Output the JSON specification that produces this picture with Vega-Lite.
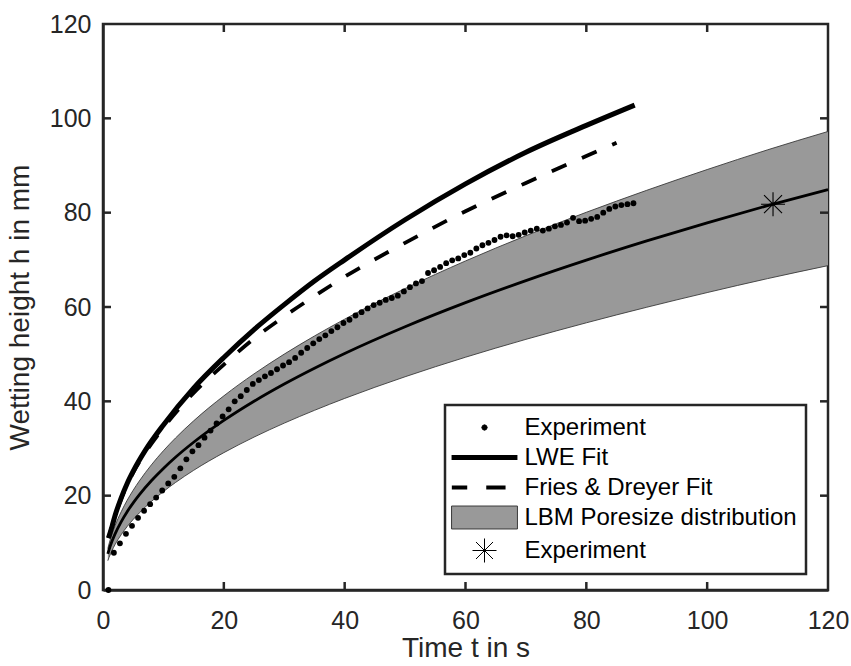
{
  "$schema": "https://vega.github.io/schema/vega-lite/v6.json",
  "width": 725,
  "height": 566,
  "autosize": {"type": "none"},
  "padding": {"left": 103, "top": 24, "right": 23, "bottom": 76},
  "background": "white",
  "config": {
    "font": "Liberation Sans",
    "view": {"stroke": "#262626", "strokeWidth": 2.5},
    "axis": {
      "domainColor": "#262626", "domainWidth": 2.5,
      "ticks": false, "labelFlush": false,
      "labelColor": "#262626", "labelFont": "Liberation Sans", "labelFontSize": 25,
      "titleFont": "Liberation Sans", "titleFontSize": 28, "titleFontWeight": "normal", "titleColor": "#262626",
      "grid": false
    },
    "legend": {
      "orient": "none", "legendX": 342, "legendY": 381,
      "symbolSize": 729, "symbolOffset": 17, "labelOffset": 26, "rowPadding": 4, "padding": 8.5,
      "labelFont": "Liberation Sans", "labelFontSize": 24, "labelColor": "black", "labelLimit": 500,
      "strokeColor": "#262626", "fillColor": "white", "strokeWidth": 2.5, "symbolStrokeWidth": 1
    }
  },
  "datasets": {
    "band": [
      {"t": 0.8, "mean": 7.67, "upper": 8.78, "lower": 6.21},
      {"t": 1, "mean": 8.54, "upper": 9.78, "lower": 6.92},
      {"t": 1.5, "mean": 10.37, "upper": 11.87, "lower": 8.4},
      {"t": 2, "mean": 11.91, "upper": 13.64, "lower": 9.65},
      {"t": 3, "mean": 14.46, "upper": 16.56, "lower": 11.71},
      {"t": 4, "mean": 16.61, "upper": 19.02, "lower": 13.45},
      {"t": 5, "mean": 18.48, "upper": 21.16, "lower": 14.97},
      {"t": 6, "mean": 20.17, "upper": 23.09, "lower": 16.34},
      {"t": 8, "mean": 23.16, "upper": 26.52, "lower": 18.76},
      {"t": 10, "mean": 25.78, "upper": 29.52, "lower": 20.88},
      {"t": 12, "mean": 28.14, "upper": 32.22, "lower": 22.79},
      {"t": 15, "mean": 31.32, "upper": 35.86, "lower": 25.37},
      {"t": 20, "mean": 35.95, "upper": 41.16, "lower": 29.12},
      {"t": 25, "mean": 40.02, "upper": 45.82, "lower": 32.42},
      {"t": 30, "mean": 43.68, "upper": 50.01, "lower": 35.38},
      {"t": 35, "mean": 47.03, "upper": 53.85, "lower": 38.09},
      {"t": 40, "mean": 50.15, "upper": 57.42, "lower": 40.62},
      {"t": 50, "mean": 55.82, "upper": 63.91, "lower": 45.21},
      {"t": 60, "mean": 60.93, "upper": 69.76, "lower": 49.35},
      {"t": 70, "mean": 65.6, "upper": 75.11, "lower": 53.14},
      {"t": 80, "mean": 69.94, "upper": 80.08, "lower": 56.65},
      {"t": 90, "mean": 74.01, "upper": 84.74, "lower": 59.95},
      {"t": 100, "mean": 77.85, "upper": 89.14, "lower": 63.06},
      {"t": 110, "mean": 81.5, "upper": 93.32, "lower": 66.02},
      {"t": 120, "mean": 84.9, "upper": 97.21, "lower": 68.77}
    ],
    "lwe": [
      {"t": 0.9, "h": 11.0}, {"t": 1.5, "h": 13.5}, {"t": 2, "h": 15.8}, {"t": 3, "h": 19.5},
      {"t": 4, "h": 22.6}, {"t": 5, "h": 25.2}, {"t": 7, "h": 29.6}, {"t": 10, "h": 35.0},
      {"t": 15, "h": 42.8}, {"t": 20, "h": 49.3}, {"t": 25, "h": 55.2}, {"t": 30, "h": 60.5},
      {"t": 35, "h": 65.5}, {"t": 40, "h": 70.0}, {"t": 50, "h": 78.5}, {"t": 60, "h": 86.1},
      {"t": 70, "h": 92.8}, {"t": 80, "h": 98.5}, {"t": 88, "h": 102.8}
    ],
    "fd": [
      {"t": 0.9, "h": 11.0}, {"t": 1.5, "h": 13.5}, {"t": 2, "h": 15.7}, {"t": 3, "h": 19.3},
      {"t": 4, "h": 22.3}, {"t": 5, "h": 24.9}, {"t": 7, "h": 29.1}, {"t": 10, "h": 34.4},
      {"t": 15, "h": 41.8}, {"t": 20, "h": 47.8}, {"t": 25, "h": 53.3}, {"t": 30, "h": 58.0},
      {"t": 35, "h": 62.3}, {"t": 40, "h": 66.4}, {"t": 50, "h": 73.6}, {"t": 60, "h": 80.3},
      {"t": 70, "h": 86.3}, {"t": 80, "h": 92.0}, {"t": 85, "h": 94.8}
    ],
    "exp": [
      {"t": 0.9, "h": 0}, {"t": 1.8, "h": 7.9}, {"t": 2.8, "h": 9.9}, {"t": 3.8, "h": 11.9},
      {"t": 4.8, "h": 13.6}, {"t": 5.8, "h": 15.3}, {"t": 6.8, "h": 16.8}, {"t": 7.8, "h": 18.2},
      {"t": 8.8, "h": 19.6}, {"t": 9.8, "h": 21.1}, {"t": 10.8, "h": 22.6}, {"t": 11.8, "h": 24.0},
      {"t": 12.8, "h": 25.8}, {"t": 13.8, "h": 27.7}, {"t": 14.8, "h": 29.4}, {"t": 15.8, "h": 30.7},
      {"t": 16.8, "h": 32.3}, {"t": 17.8, "h": 33.8}, {"t": 18.8, "h": 35.3}, {"t": 19.8, "h": 36.8},
      {"t": 20.8, "h": 38.3}, {"t": 21.8, "h": 40.0}, {"t": 22.8, "h": 41.1}, {"t": 23.8, "h": 42.4},
      {"t": 24.8, "h": 43.7}, {"t": 25.8, "h": 44.5}, {"t": 26.8, "h": 45.3}, {"t": 27.8, "h": 46.0},
      {"t": 28.8, "h": 46.8}, {"t": 29.8, "h": 47.6}, {"t": 30.8, "h": 48.3}, {"t": 31.8, "h": 49.2},
      {"t": 32.8, "h": 50.3}, {"t": 33.8, "h": 51.3}, {"t": 34.8, "h": 52.3}, {"t": 35.8, "h": 53.2},
      {"t": 36.8, "h": 54.0}, {"t": 37.8, "h": 54.9}, {"t": 38.8, "h": 55.7}, {"t": 39.8, "h": 56.6},
      {"t": 40.8, "h": 57.3}, {"t": 41.8, "h": 58.2}, {"t": 42.8, "h": 58.9}, {"t": 43.8, "h": 59.7},
      {"t": 44.8, "h": 60.4}, {"t": 45.8, "h": 60.9}, {"t": 46.8, "h": 61.5}, {"t": 47.8, "h": 61.9},
      {"t": 48.8, "h": 62.4}, {"t": 49.8, "h": 63.3}, {"t": 50.8, "h": 64.2}, {"t": 51.8, "h": 65.0},
      {"t": 52.8, "h": 65.5}, {"t": 53.8, "h": 67.2}, {"t": 54.8, "h": 67.8}, {"t": 55.8, "h": 68.5},
      {"t": 56.8, "h": 69.3}, {"t": 57.8, "h": 69.9}, {"t": 58.8, "h": 70.3}, {"t": 59.8, "h": 71.0},
      {"t": 60.8, "h": 71.5}, {"t": 61.8, "h": 72.4}, {"t": 62.8, "h": 73.1}, {"t": 63.8, "h": 73.6},
      {"t": 64.8, "h": 74.2}, {"t": 65.8, "h": 74.9}, {"t": 66.8, "h": 75.2}, {"t": 67.8, "h": 75.0},
      {"t": 68.8, "h": 75.3}, {"t": 69.8, "h": 75.8}, {"t": 70.8, "h": 76.2}, {"t": 71.8, "h": 76.6},
      {"t": 72.8, "h": 76.2}, {"t": 73.8, "h": 76.6}, {"t": 74.8, "h": 77.1}, {"t": 75.8, "h": 77.4},
      {"t": 76.8, "h": 77.9}, {"t": 77.8, "h": 78.9}, {"t": 78.8, "h": 78.2}, {"t": 79.8, "h": 78.3},
      {"t": 80.8, "h": 78.7}, {"t": 81.8, "h": 79.1}, {"t": 82.8, "h": 80.0}, {"t": 83.8, "h": 80.8},
      {"t": 84.8, "h": 81.3}, {"t": 85.8, "h": 81.6}, {"t": 86.8, "h": 81.8}, {"t": 87.8, "h": 82.0}
    ],
    "star": [{"t": 110.9, "h": 81.8}],
    "xticks": [
      {"t": 20, "top": 120, "top2": 118.3, "bot": 0, "bot2": 1.7},
      {"t": 40, "top": 120, "top2": 118.3, "bot": 0, "bot2": 1.7},
      {"t": 60, "top": 120, "top2": 118.3, "bot": 0, "bot2": 1.7},
      {"t": 80, "top": 120, "top2": 118.3, "bot": 0, "bot2": 1.7},
      {"t": 100, "top": 120, "top2": 118.3, "bot": 0, "bot2": 1.7}
    ],
    "yticks": [
      {"h": 20, "right": 120, "right2": 118.68, "left": 0, "left2": 1.32},
      {"h": 40, "right": 120, "right2": 118.68, "left": 0, "left2": 1.32},
      {"h": 60, "right": 120, "right2": 118.68, "left": 0, "left2": 1.32},
      {"h": 80, "right": 120, "right2": 118.68, "left": 0, "left2": 1.32},
      {"h": 100, "right": 120, "right2": 118.68, "left": 0, "left2": 1.32}
    ],
    "legend": [
      {"key": "Experiment", "t": -50, "h": -50},
      {"key": "LWE Fit", "t": -50, "h": -50},
      {"key": "Fries & Dreyer Fit", "t": -50, "h": -50},
      {"key": "LBM Poresize distribution", "t": -50, "h": -50},
      {"key": "Experiment*", "t": -50, "h": -50}
    ]
  },
  "layer": [
    {
      "data": {"name": "band"},
      "mark": {"type": "area", "color": "#999999", "opacity": 1, "interpolate": "monotone"},
      "encoding": {
        "x": {"field": "t", "type": "quantitative", "scale": {"domain": [0, 120], "nice": false},
          "axis": {"title": "Time t in s", "values": [0, 20, 40, 60, 80, 100, 120], "labelPadding": 18, "titlePadding": 1}},
        "y": {"field": "upper", "type": "quantitative", "scale": {"domain": [0, 120], "nice": false},
          "axis": {"title": "Wetting height h in mm", "values": [0, 20, 40, 60, 80, 100, 120], "labelPadding": 12, "titlePadding": 15}},
        "y2": {"field": "lower"}
      }
    },
    {
      "data": {"name": "band"},
      "mark": {"type": "line", "color": "#3a3a3a", "strokeWidth": 0.9, "interpolate": "monotone"},
      "encoding": {
        "x": {"field": "t", "type": "quantitative"},
        "y": {"field": "upper", "type": "quantitative"}
      }
    },
    {
      "data": {"name": "band"},
      "mark": {"type": "line", "color": "#3a3a3a", "strokeWidth": 0.9, "interpolate": "monotone"},
      "encoding": {
        "x": {"field": "t", "type": "quantitative"},
        "y": {"field": "lower", "type": "quantitative"}
      }
    },
    {
      "data": {"name": "band"},
      "mark": {"type": "line", "color": "black", "strokeWidth": 2.8, "interpolate": "monotone"},
      "encoding": {
        "x": {"field": "t", "type": "quantitative"},
        "y": {"field": "mean", "type": "quantitative"}
      }
    },
    {
      "data": {"name": "lwe"},
      "mark": {"type": "line", "color": "black", "strokeWidth": 5, "strokeCap": "butt", "interpolate": "monotone"},
      "encoding": {
        "x": {"field": "t", "type": "quantitative"},
        "y": {"field": "h", "type": "quantitative"}
      }
    },
    {
      "data": {"name": "fd"},
      "mark": {"type": "line", "color": "black", "strokeWidth": 3.8, "strokeDash": [16, 17], "strokeCap": "butt", "interpolate": "monotone"},
      "encoding": {
        "x": {"field": "t", "type": "quantitative"},
        "y": {"field": "h", "type": "quantitative"}
      }
    },
    {
      "data": {"name": "exp"},
      "mark": {"type": "point", "filled": true, "color": "black", "size": 34, "opacity": 1},
      "encoding": {
        "x": {"field": "t", "type": "quantitative"},
        "y": {"field": "h", "type": "quantitative"}
      }
    },
    {
      "data": {"name": "star"},
      "mark": {"type": "point", "filled": false, "stroke": "black", "strokeWidth": 1.1, "size": 576, "opacity": 1,
        "shape": "M0,-1L0,1M-1,0L1,0M-0.75,-0.75L0.75,0.75M-0.75,0.75L0.75,-0.75"},
      "encoding": {
        "x": {"field": "t", "type": "quantitative"},
        "y": {"field": "h", "type": "quantitative"}
      }
    },
    {
      "data": {"name": "xticks"},
      "mark": {"type": "rule", "color": "#262626", "strokeWidth": 2.5},
      "encoding": {
        "x": {"field": "t", "type": "quantitative"},
        "y": {"field": "top", "type": "quantitative"},
        "y2": {"field": "top2"}
      }
    },
    {
      "data": {"name": "xticks"},
      "mark": {"type": "rule", "color": "#262626", "strokeWidth": 2.5},
      "encoding": {
        "x": {"field": "t", "type": "quantitative"},
        "y": {"field": "bot", "type": "quantitative"},
        "y2": {"field": "bot2"}
      }
    },
    {
      "data": {"name": "yticks"},
      "mark": {"type": "rule", "color": "#262626", "strokeWidth": 2.5},
      "encoding": {
        "x": {"field": "right", "type": "quantitative"},
        "x2": {"field": "right2"},
        "y": {"field": "h", "type": "quantitative"}
      }
    },
    {
      "data": {"name": "yticks"},
      "mark": {"type": "rule", "color": "#262626", "strokeWidth": 2.5},
      "encoding": {
        "x": {"field": "left", "type": "quantitative"},
        "x2": {"field": "left2"},
        "y": {"field": "h", "type": "quantitative"}
      }
    },
    {
      "data": {"name": "legend"},
      "mark": {"type": "point", "filled": true, "opacity": 1, "clip": true},
      "encoding": {
        "x": {"field": "t", "type": "quantitative"},
        "y": {"field": "h", "type": "quantitative"},
        "shape": {
          "field": "key", "type": "nominal",
          "scale": {
            "domain": ["Experiment", "LWE Fit", "Fries & Dreyer Fit", "LBM Poresize distribution", "Experiment*"],
            "range": [
              "M0.2,0L0.141,0.141L0,0.2L-0.141,0.141L-0.2,0L-0.141,-0.141L0,-0.2L0.141,-0.141Z",
              "M-2.44,-0.185L2.44,-0.185L2.44,0.185L-2.44,0.185Z",
              "M-2.42,-0.15L-1.28,-0.15L-1.28,0.15L-2.42,0.15ZM0.13,-0.15L1.56,-0.15L1.56,0.15L0.13,0.15Z",
              "M-2.44,-0.85L2.44,-0.85L2.44,0.85L-2.44,0.85Z",
              "M0,-0.89L0,0.89M-0.89,0L0.89,0M-0.63,-0.63L0.63,0.63M-0.63,0.63L0.63,-0.63"
            ]
          },
          "legend": {"title": null, "labelExpr": "replace(datum.label, '*', '')"}
        },
        "fill": {
          "field": "key", "type": "nominal",
          "scale": {
            "domain": ["Experiment", "LWE Fit", "Fries & Dreyer Fit", "LBM Poresize distribution", "Experiment*"],
            "range": ["black", "black", "black", "#999999", "transparent"]
          },
          "legend": {"title": null, "labelExpr": "replace(datum.label, '*', '')"}
        },
        "stroke": {
          "field": "key", "type": "nominal",
          "scale": {
            "domain": ["Experiment", "LWE Fit", "Fries & Dreyer Fit", "LBM Poresize distribution", "Experiment*"],
            "range": ["black", "transparent", "transparent", "#3a3a3a", "black"]
          },
          "legend": {"title": null, "labelExpr": "replace(datum.label, '*', '')"}
        }
      }
    }
  ]
}
